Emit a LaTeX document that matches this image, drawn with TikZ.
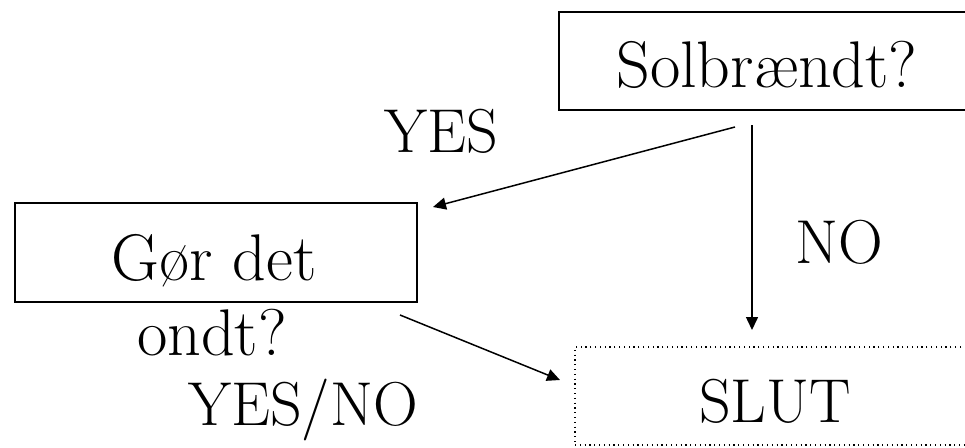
\documentclass[tikz,border=0pt]{standalone}
\usetikzlibrary{arrows.meta}
\begin{document}
\begin{tikzpicture}[x=1pt,y=-1pt,
  boxline/.style={draw=black,line width=1.4pt},
  dotline/.style={draw=black,line width=1.6pt,dash pattern=on 1.2pt off 3.6pt},
  txt/.style={anchor=base,inner sep=0pt,font=\fontsize{66}{72}\selectfont},
  captxt/.style={anchor=base,inner sep=0pt,font=\fontsize{62}{70}\selectfont},
  conn/.style={line width=1.5pt,-{Triangle[length=13pt,width=12pt]}}]
\useasboundingbox (0,0) rectangle (965,447);
\clip (0,0) rectangle (965,447);
% boxes
\node[boxline,inner sep=0pt,minimum width=420pt,minimum height=98pt] (solbox) at (769,61) {};
\node[boxline,inner sep=0pt,minimum width=402pt,minimum height=99pt] (gorbox) at (216,252.5) {};
\node[dotline,inner sep=0pt,minimum width=420pt,minimum height=98pt] (slutbox) at (785,396) {};
% texts
\node[txt] (soltxt) at (767,87) {Solbrændt?};
\node[txt] (gortxt) at (214,280) {Gør det};
\node[txt] (ondt) at (212,355) {ondt?};
\node[captxt] (yesno) at (303,425) {YES/NO};
\node[captxt] (sluttxt) at (775,422) {SLUT};
\node[captxt] (yes) at (441,152) {YES};
\node[captxt] (no) at (839,263) {NO};
% connector ends
\coordinate (a1s) at (735,127);
\coordinate (a1e) at (433,207);
\coordinate (a2s) at (752,125);
\coordinate (a2e) at (752,330);
\coordinate (a3s) at (400,315);
\coordinate (a3e) at (560,380);
\draw[conn] (a1s) -- (a1e);
\draw[conn] (a2s) -- (a2e);
\draw[conn] (a3s) -- (a3e);
\end{tikzpicture}
\end{document}
